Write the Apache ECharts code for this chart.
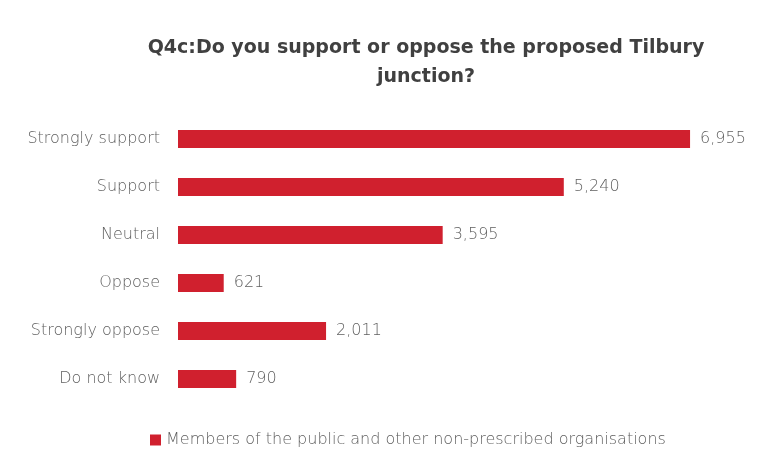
<!DOCTYPE html>
<html>
<head>
<meta charset="utf-8">
<script src="https://cdn.jsdelivr.net/npm/echarts@6/dist/echarts.min.js"></script>
<style>
  html, body { margin: 0; padding: 0; background: #ffffff; }
  #chart { width: 774px; height: 454px; }
</style>
</head>
<body>
<div id="chart"></div>
<script>
// Responses to Q4c, listed top to bottom
const categories = ['Strongly support', 'Support', 'Neutral', 'Oppose', 'Strongly oppose', 'Do not know'];
const responses = [6955, 5240, 3595, 621, 2011, 790];
const seriesName = 'Members of the public and other non-prescribed organisations';
const titleText = 'Q4c:Do you support or oppose the proposed Tilbury\njunction?';

const barColor = '#d0202e';
const textGrey = '#5f5f5f';
const bodyFont = 'DejaVu Sans';

const chart = echarts.init(document.getElementById('chart'));
chart.setOption({
  backgroundColor: '#ffffff',
  animation: false,
  title: {
    text: titleText,
    left: 421,
    textAlign: 'center',
    top: 29,
    textStyle: {
      fontFamily: 'DejaVu Sans',
      fontWeight: 'bold',
      fontSize: 19,
      lineHeight: 29,
      color: '#404040'
    }
  },
  legend: {
    bottom: 1,
    left: 145,
    itemWidth: 11,
    itemHeight: 11,
    itemGap: 3,
    icon: 'rect',
    textStyle: { fontFamily: bodyFont, fontWeight: 200, fontSize: 16, color: textGrey },
    data: [seriesName]
  },
  grid: { left: 178, top: 115, width: 589, height: 288, containLabel: false },
  xAxis: {
    type: 'value',
    min: 0,
    max: 8000,
    interval: 1000,
    show: false
  },
  yAxis: {
    type: 'category',
    data: categories,
    inverse: true,
    axisLine: { show: false },
    axisTick: { show: false },
    axisLabel: {
      margin: 18,
      fontFamily: bodyFont,
      fontWeight: 200,
      fontSize: 16,
      color: textGrey
    }
  },
  series: [{
    name: seriesName,
    type: 'bar',
    data: responses,
    barWidth: 18,
    itemStyle: { color: barColor },
    label: {
      show: true,
      position: 'right',
      distance: 10,
      fontFamily: bodyFont,
      fontWeight: 200,
      fontSize: 16,
      color: textGrey,
      formatter: p => p.value.toLocaleString('en-US')
    }
  }]
});
</script>
</body>
</html>
